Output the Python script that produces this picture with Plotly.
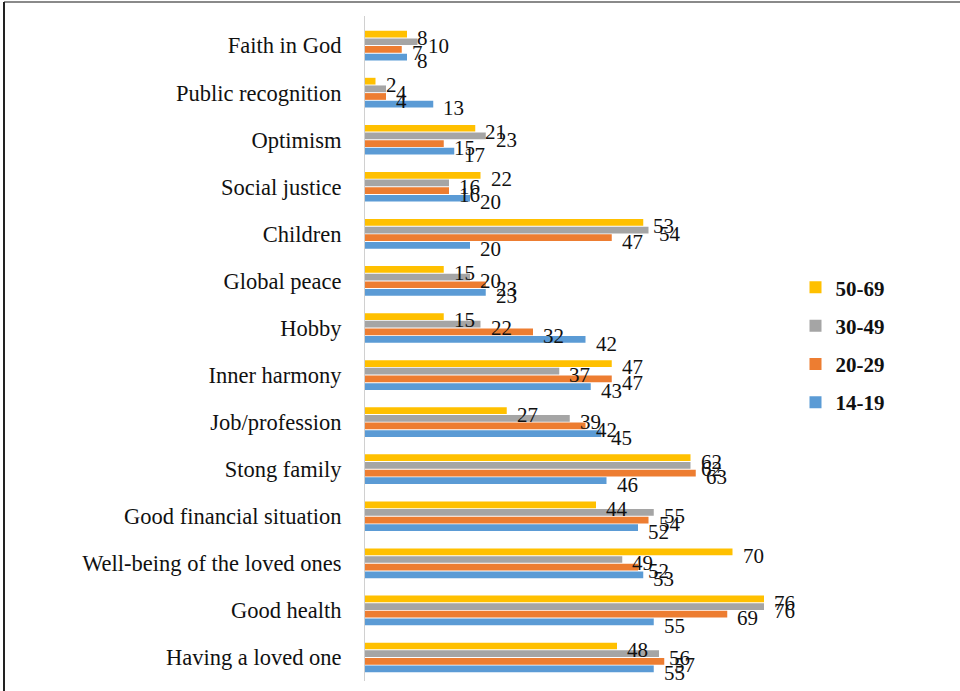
import plotly.graph_objects as go

# Life values by age group (% of respondents)
categories = [
    "Faith in God", "Public recognition", "Optimism", "Social justice",
    "Children", "Global peace", "Hobby", "Inner harmony", "Job/profession",
    "Stong family", "Good financial situation", "Well-being of the loved ones",
    "Good health", "Having a loved one",
]
age_50_69 = [8, 2, 21, 22, 53, 15, 15, 47, 27, 62, 44, 70, 76, 48]
age_30_49 = [10, 4, 23, 16, 54, 20, 22, 37, 39, 62, 55, 49, 76, 56]
age_20_29 = [7, 4, 15, 16, 47, 23, 32, 47, 42, 63, 54, 52, 69, 57]
age_14_19 = [8, 13, 17, 20, 20, 23, 42, 43, 45, 46, 52, 53, 55, 55]

series = [
    ("50-69", age_50_69, "#FFC000"),
    ("30-49", age_30_49, "#A5A5A5"),
    ("20-29", age_20_29, "#ED7D31"),
    ("14-19", age_14_19, "#5B9BD5"),
]

SERIF = "Liberation Serif, Times New Roman, serif"
W, H = 960, 691
L, R, T, B = 365, 175, 16, 10
BARGAP = 0.35
X_MAX = 80

fig = go.Figure()
for name, vals, color in series:
    fig.add_trace(go.Bar(
        y=categories, x=vals, name=name, orientation="h",
        legendgroup=name,
        marker=dict(color=color, line=dict(width=0)),
    ))

# value labels just past the end of each bar, slightly below its centre
plot_h = H - T - B
slot = plot_h / len(categories)
bar_slot = slot * (1 - BARGAP) / len(series)
annotations = []
for i, (name, vals, color) in enumerate(series):
    centre = (1.5 - i) * bar_slot
    for cat, v in zip(categories, vals):
        annotations.append(dict(
            x=v, y=cat, xref="x", yref="y", text=str(v), showarrow=False,
            xanchor="left", yanchor="middle", xshift=8, yshift=centre - 4,
            font=dict(family=SERIF, size=21, color="#111111"),
        ))

plot_w = W - L - R
px = lambda p: (p - L) / plot_w
py = lambda p: 1 - (p - T) / plot_h

fig.update_layout(
    width=W, height=H,
    margin=dict(l=L, r=R, t=T, b=B),
    paper_bgcolor="white", plot_bgcolor="white",
    barmode="group", bargap=BARGAP, bargroupgap=0.12,
    showlegend=True,
    legend=dict(
        x=1.025, y=0.505, xanchor="left", yanchor="middle",
        font=dict(family=SERIF, size=21, color="#111111", weight="bold"),
        tracegroupgap=8, itemwidth=30, traceorder="grouped",
    ),
    xaxis=dict(range=[0, X_MAX], visible=False, fixedrange=True),
    yaxis=dict(
        autorange="reversed", showgrid=False, zeroline=False,
        showline=True, linecolor="#D0D0D0", linewidth=1,
        ticks="", ticklabelstandoff=18,
        tickfont=dict(family=SERIF, size=22.5, color="#111111"),
    ),
    annotations=annotations,
    shapes=[
        dict(type="line", xref="paper", yref="paper",
             x0=px(4), x1=px(W + 10), y0=py(2), y1=py(2),
             line=dict(color="#8A8A8A", width=2)),
        dict(type="line", xref="paper", yref="paper",
             x0=px(4), x1=px(4), y0=py(2), y1=py(H + 10),
             line=dict(color="#222222", width=2)),
    ],
)

fig.write_html("out.html")
